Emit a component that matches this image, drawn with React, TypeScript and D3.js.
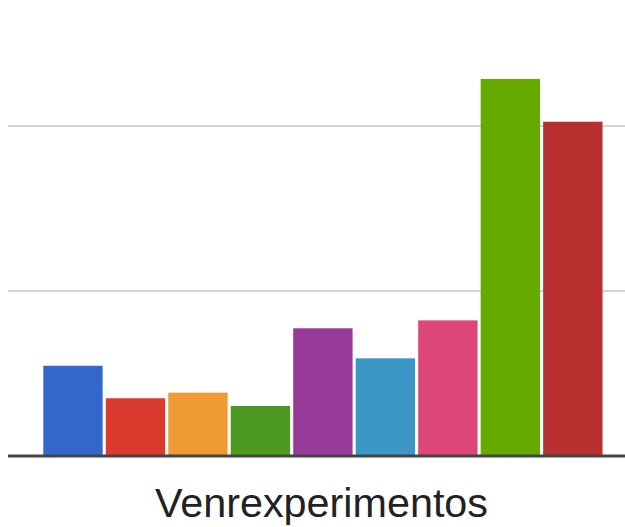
import React from "react";
import * as d3 from "d3";

const categories = ["A", "B", "C", "D", "E", "F", "G", "H", "I"];
const values = [5.47, 3.5, 3.84, 3.03, 7.74, 5.92, 8.22, 22.85, 20.26];
const colors = ["#3267cc", "#db3a2e", "#f09a35", "#4e9a20", "#983a97", "#3b98c6", "#dd4677", "#66aa00", "#b72f2e"];
const gridTicks = [10, 20];
const axisTitle = "Venrexperimentos";

export default function App() {
  const W = 625;
  const H = 527;
  const x = d3.scaleBand<string>().domain(categories).range([43.3, 602.5]).paddingInner(0.05).paddingOuter(0);
  const y = d3.scaleLinear().domain([0, 20]).range([456, 126]);
  return (
    <svg width={W} height={H} style={{ position: "absolute", left: 0, top: 0, background: "#fff" }}>
      {gridTicks.map((t) => (
        <line key={t} x1={8} x2={W} y1={y(t)} y2={y(t)} stroke="#d4d4d4" strokeWidth={2} />
      ))}
      {categories.map((c, i) => (
        <rect
          key={c}
          x={x(c)}
          y={y(values[i])}
          width={x.bandwidth()}
          height={y(0) - y(values[i])}
          fill={colors[i]}
        />
      ))}
      <line x1={8} x2={W} y1={y(0)} y2={y(0)} stroke="#444" strokeWidth={3} />
      <text
        x={321.5}
        y={516.5}
        textAnchor="middle"
        fontFamily="'Liberation Sans', Arial, sans-serif"
        fontSize={40}
        textLength={333}
        lengthAdjust="spacingAndGlyphs"
        fill="#222"
      >
        {axisTitle}
      </text>
    </svg>
  );
}
